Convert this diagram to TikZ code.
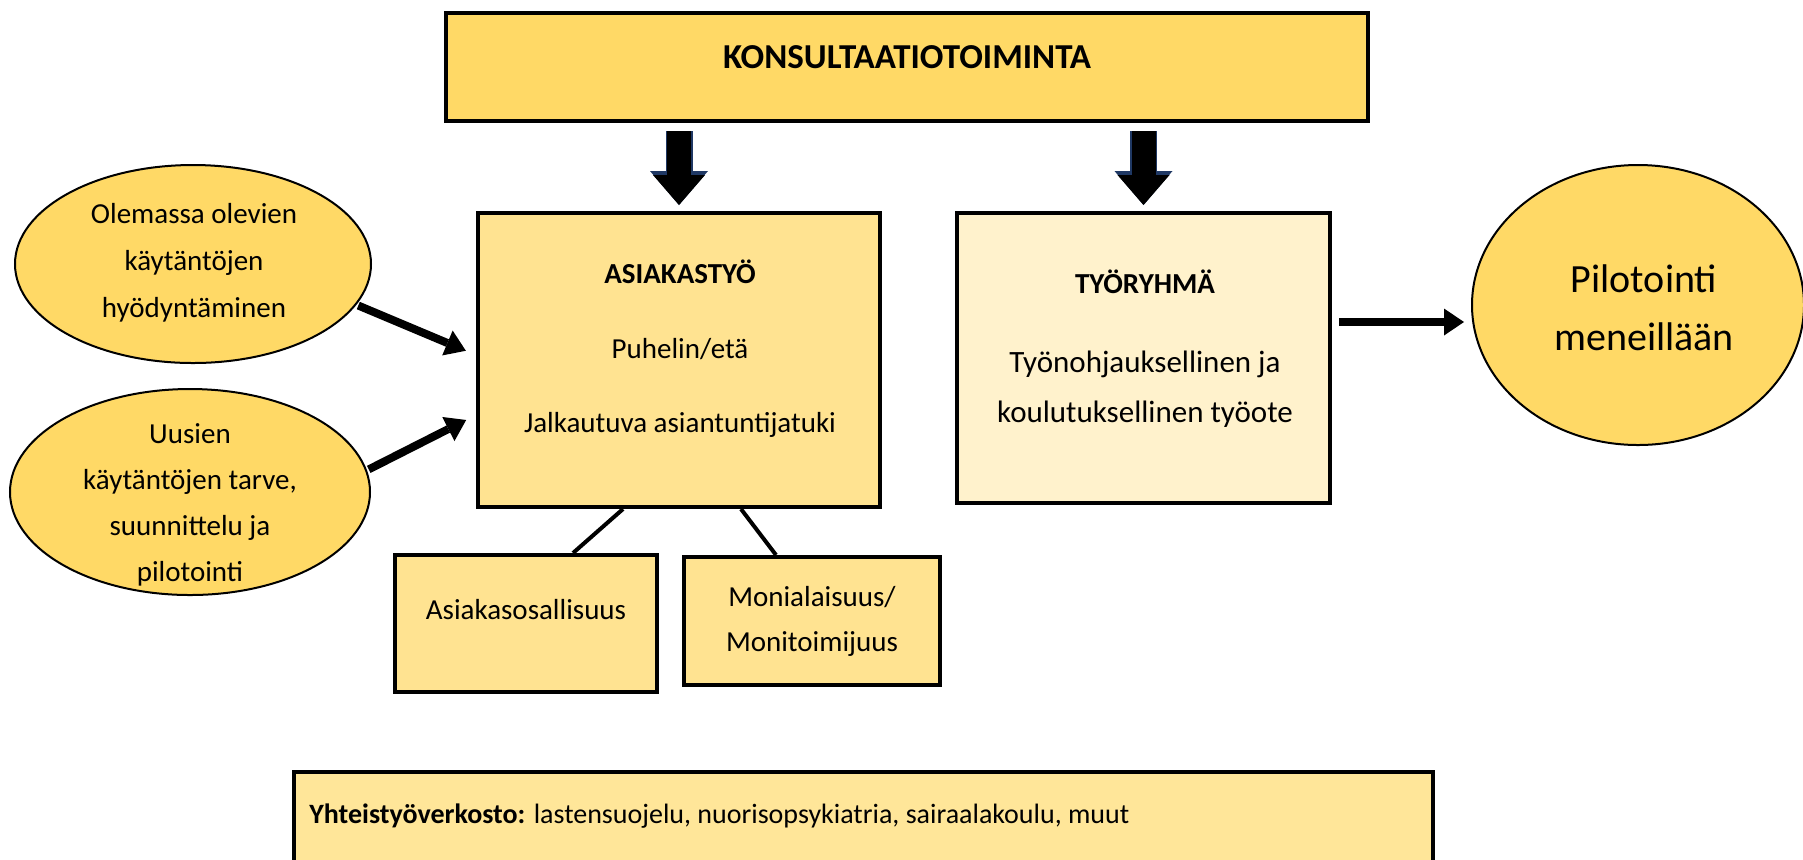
\documentclass[tikz,border=0pt]{standalone}
\usepackage{fontspec}
\setmainfont{Carlito}
\usetikzlibrary{shapes.geometric,arrows.meta}

\definecolor{gold}{HTML}{FFD966}
\definecolor{lightgold}{HTML}{FFE391}
\definecolor{palegold}{HTML}{FFF2CC}
\definecolor{netgold}{HTML}{FFE699}
\definecolor{arrowblue}{HTML}{1F3864}

\begin{document}
\begin{tikzpicture}[x=0.5pt,y=-0.5pt,
  rbox/.style={draw=black,line width=2pt,inner sep=0pt},
  oval/.style={ellipse,draw=black,line width=1pt,fill=gold,inner sep=0pt},
  txt/.style={anchor=base,inner sep=0pt,font=\fontsize{14.5}{17}\selectfont},
  boldtxt/.style={txt,font=\bfseries\fontsize{14.5}{17}\selectfont},
  ovaltxt/.style={txt,font=\fontsize{14.5}{17}\selectfont},
  downarrow/.style={line width=12pt,shorten <=4pt,shorten >=3pt,
    -{Triangle[width=26pt,length=15pt,line width=0pt]},
    preaction={draw=arrowblue,line width=13.5pt,-{Triangle[width=29pt,length=17pt,line width=0pt]}}},
  pointer/.style={line width=4pt,-{Triangle[width=13.5pt,length=10pt,line width=0pt]}},
  link/.style={line width=2pt}]
\useasboundingbox (0,0) rectangle (1803,859);

% top
\node[rbox,fill=gold,minimum width=461pt,minimum height=54pt] (konsult) at (907,67) {};
\node[txt,font=\bfseries\fontsize{17.5}{20}\selectfont] (konsulttxt) at (907,68) {KONSULTAATIOTOIMINTA};

% middle boxes
\node[rbox,fill=lightgold,minimum width=201pt,minimum height=147pt] (asia) at (679,360) {};
\node[boldtxt] (asia-1) at (680,283) {ASIAKASTYÖ};
\node[txt] (asia-2) at (680,358) {Puhelin/etä};
\node[txt] (asia-3) at (680,432) {Jalkautuva asiantuntijatuki};

\node[rbox,fill=palegold,minimum width=186.5pt,minimum height=145pt] (tyo) at (1143.5,358) {};
\node[boldtxt] (tyo-1) at (1145,293) {TYÖRYHMÄ};
\node[txt,font=\fontsize{15.5}{17}\selectfont] (tyo-2) at (1145,372) {Työnohjauksellinen ja};
\node[txt,font=\fontsize{15.5}{17}\selectfont] (tyo-3) at (1145,422) {koulutuksellinen työote};

% ovals
\node[oval,minimum width=178pt,minimum height=99pt] (olemassa) at (193,264) {};
\foreach \rivi [count=\i] in {Olemassa olevien,käytäntöjen,hyödyntäminen}
  \node[ovaltxt] (olemassa-\i) at (194,176+47*\i) {\rivi};

\node[oval,minimum width=180pt,minimum height=103pt] (uusien) at (190,492) {};
\foreach \rivi [count=\i] in {Uusien,{käytäntöjen tarve,},suunnittelu ja,pilotointi}
  \node[ovaltxt] (uusien-\i) at (190,397+46*\i) {\rivi};

\node[oval,minimum width=166pt,minimum height=140pt] (pilot) at (1638,305) {};
\node[txt,font=\fontsize{20}{24}\selectfont] (pilot-1) at (1644,292) {Pilotointi};
\node[txt,font=\fontsize{20}{24}\selectfont] (pilot-2) at (1644,350) {meneillään};

% small boxes
\node[rbox,fill=lightgold,minimum width=131pt,minimum height=68.5pt] (osal) at (526,623.5) {};
\node[txt] (osal-1) at (526,619) {Asiakasosallisuus};
\node[rbox,fill=lightgold,minimum width=128pt,minimum height=64pt] (moni) at (812,621) {};
\node[txt] (moni-1) at (812,606) {Monialaisuus/};
\node[txt] (moni-2) at (812,651) {Monitoimijuus};

% network
\node[rbox,fill=netgold,minimum width=569.5pt,minimum height=45pt] (verkosto) at (863.5,817) {};
\node[txt,anchor=base west,font=\fontsize{14}{17}\selectfont] (verkosto-1) at (309,823) {\textbf{Yhteistyöverkosto:} lastensuojelu, nuorisopsykiatria, sairaalakoulu, muut};

% arrows
\draw[downarrow] (konsult.south -| asia.north) -- (asia.north);
\draw[downarrow] (konsult.south -| tyo.north) -- (tyo.north);
\draw[pointer,shorten <=1pt,shorten >=5.5pt] (olemassa.-14) -- ([yshift=2.5pt]asia.west);
\draw[pointer,shorten <=1pt,shorten >=5.5pt] (uusien.7) -- ([yshift=-27.5pt]asia.west);
\draw[pointer,shorten <=3.5pt,shorten >=3.5pt] ([yshift=18pt]tyo.east) -- ([yshift=18pt]tyo.east -| pilot.west);
\draw[link] ([xshift=-28pt]asia.south) -- ([xshift=23.5pt]osal.north);
\draw[link] ([xshift=31pt]asia.south) -- ([xshift=-18pt]moni.north);
\end{tikzpicture}
\end{document}
